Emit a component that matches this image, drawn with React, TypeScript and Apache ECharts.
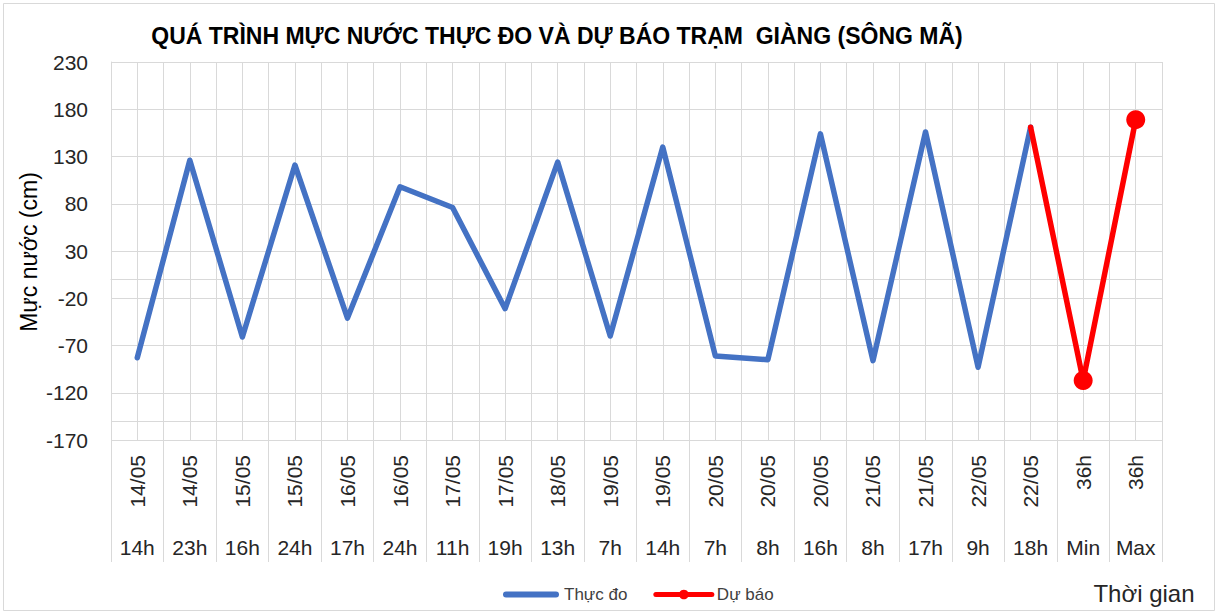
import React, { useEffect, useRef } from "react";
import * as echarts from "echarts";

const dateLabels = ["14/05", "14/05", "15/05", "15/05", "16/05", "16/05", "17/05", "17/05", "18/05", "19/05", "19/05", "20/05", "20/05", "20/05", "21/05", "21/05", "22/05", "22/05", "36h", "36h"];
const hourLabels = ["14h", "23h", "16h", "24h", "17h", "24h", "11h", "19h", "13h", "7h", "14h", "7h", "8h", "16h", "8h", "17h", "9h", "18h", "Min", "Max"];
const observed = [-83, 126, -61, 121, -41, 98, 76, -31, 124, -60, 140, -81, -85, 154, -86, 156, -93, 161, null, null];
const forecast = [null, null, null, null, null, null, null, null, null, null, null, null, null, null, null, null, null, 161, -107, 169];
const yMin = -170;
const yMax = 230;
const yStep = 50;
const extraLine = -150;

const FONT = "'Liberation Sans', Arial, sans-serif";
const GRID = "#d9d9d9";
const TEXT = "#262626";

export default function App() {
  const ref = useRef<HTMLDivElement>(null);
  useEffect(() => {
    if (!ref.current) return;
    const chart = echarts.init(ref.current, undefined, { renderer: "svg" });
    const halfCats = new Array(dateLabels.length * 2).fill("");
    const forecastData = forecast.map((v, i) =>
      v !== null && i === 17 ? { value: v, symbol: "none" } : v
    );
    chart.setOption({
      animation: false,
      backgroundColor: "#ffffff",
      textStyle: { fontFamily: FONT },
      title: {
        text: "QUÁ TRÌNH MỰC NƯỚC THỰC ĐO VÀ DỰ BÁO TRẠM  GIÀNG (SÔNG MÃ)",
        left: 552,
        textAlign: "center",
        top: 19,
        textStyle: { fontFamily: "'Liberation Sans Narrow', 'Liberation Sans', sans-serif", fontWeight: "bold", fontSize: 23, color: "#000" },
      },
      legend: {
        left: 498,
        top: 581,
        itemWidth: 56,
        itemHeight: 12,
        itemGap: 26,
        textStyle: { fontFamily: FONT, fontSize: 17, color: "#404040" },
        data: [
          { name: "Thực đo", icon: "path://M3,0 H53 A3,3 0 0 1 53,6 H3 A3,3 0 0 1 3,0 Z" },
          { name: "Dự báo", lineStyle: { width: 5 } },
        ],
      },
      grid: [
        { left: 111, right: 57, top: 62, bottom: 174, containLabel: false },
        { left: 111, right: 57, top: 440, height: 122, containLabel: false },
      ],
      xAxis: [
        {
          type: "category",
          gridIndex: 0,
          data: dateLabels,
          position: "bottom",
          boundaryGap: true,
          axisLine: { show: true, lineStyle: { color: GRID } },
          axisTick: { show: false },
          axisLabel: { rotate: 90, interval: 0, margin: 15, fontSize: 21, color: TEXT, fontFamily: FONT },
          splitLine: { show: false },
        },
        {
          type: "category",
          gridIndex: 0,
          data: hourLabels,
          position: "bottom",
          offset: 0,
          boundaryGap: true,
          axisLine: { show: false },
          axisTick: { show: false },
          axisLabel: { interval: 0, margin: 97, fontSize: 21, color: TEXT, fontFamily: FONT },
          splitLine: { show: false },
        },
        {
          type: "category",
          gridIndex: 0,
          data: halfCats,
          position: "top",
          boundaryGap: true,
          axisLine: { show: false },
          axisTick: { show: false },
          axisLabel: { show: false },
          splitLine: { show: true, lineStyle: { color: GRID, width: 1 } },
        },
        {
          type: "category",
          gridIndex: 1,
          data: dateLabels,
          position: "bottom",
          boundaryGap: true,
          axisLine: { show: false },
          axisTick: { show: false },
          axisLabel: { show: false },
          splitLine: { show: true, interval: 0, lineStyle: { color: GRID, width: 1 } },
        },
      ],
      yAxis: [
        {
          type: "value",
          gridIndex: 0,
          min: yMin,
          max: yMax,
          interval: yStep,
          axisLine: { show: true, lineStyle: { color: GRID } },
          axisTick: { show: false },
          axisLabel: { fontSize: 21, color: TEXT, margin: 23, fontFamily: FONT },
          splitLine: { show: true, lineStyle: { color: GRID, width: 1 } },
        },
        {
          type: "value",
          gridIndex: 1,
          show: false,
          min: 0,
          max: 1,
        },
      ],
      graphic: [
        {
          type: "rect",
          shape: { x: 3.5, y: 3.5, width: 1211, height: 607 },
          style: { fill: "none", stroke: GRID, lineWidth: 1 },
          silent: true,
        },
        {
          type: "text",
          x: 29,
          y: 252,
          rotation: Math.PI / 2,
          style: { text: "Mực nước (cm)", fontSize: 23, fill: "#000", fontFamily: FONT, align: "center", verticalAlign: "middle" },
        },
        {
          type: "text",
          x: 1144,
          y: 593,
          style: { text: "Thời gian", fontSize: 24, fill: TEXT, fontFamily: FONT, align: "center", verticalAlign: "middle" },
        },
      ],
      series: [
        {
          name: "Thực đo",
          type: "line",
          xAxisIndex: 0,
          yAxisIndex: 0,
          data: observed,
          symbol: "none",
          lineStyle: { color: "#4472C4", width: 5.5, cap: "round", join: "round" },
          itemStyle: { color: "#4472C4" },
          markLine: {
            silent: true,
            symbol: "none",
            label: { show: false },
            lineStyle: { color: GRID, type: "solid", width: 1 },
            data: [{ yAxis: extraLine }],
          },
        },
        {
          name: "Dự báo",
          type: "line",
          xAxisIndex: 0,
          yAxisIndex: 0,
          data: forecastData,
          symbol: "circle",
          symbolSize: 19,
          lineStyle: { color: "#FF0000", width: 5.5, cap: "round", join: "round" },
          itemStyle: { color: "#FF0000" },
        },
      ],
    });
    return () => chart.dispose();
  }, []);
  return <div ref={ref} style={{ position: "fixed", left: 0, top: 0, width: 1219, height: 614 }} />;
}
